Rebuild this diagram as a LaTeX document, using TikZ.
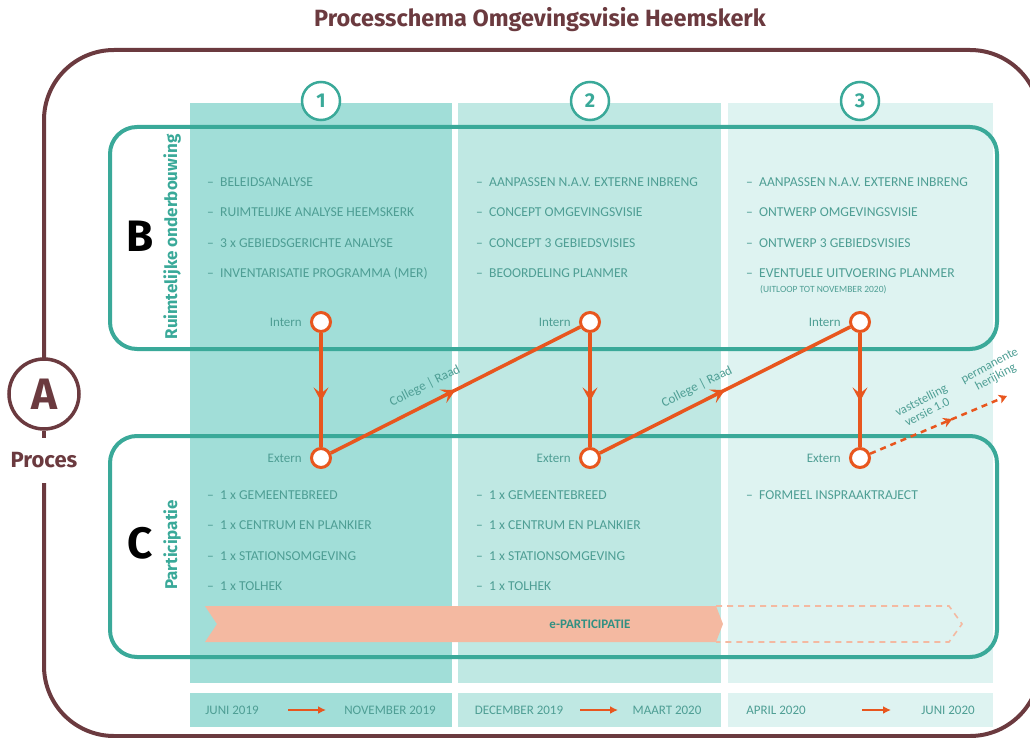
\documentclass[tikz,border=0pt]{standalone}
\usepackage{fontspec}
\setmainfont{Carlito}
\newfontfamily\headfont{Fira Sans}
\usetikzlibrary{arrows.meta,decorations.markings}
\definecolor{brownc}{HTML}{6B3A3F}
\definecolor{tealc}{HTML}{3AA999}
\definecolor{tealtxt}{HTML}{4E9E94}
\definecolor{orangec}{HTML}{E8561E}
\definecolor{salmon}{HTML}{F4B9A1}
\definecolor{colA}{HTML}{A1DED8}
\definecolor{colB}{HTML}{BFE8E3}
\definecolor{colC}{HTML}{DEF3F1}
\newcommand{\dashitem}[1]{\makebox[13pt][l]{–}#1}
\begin{document}
\begin{tikzpicture}[x=1pt,y=-1pt,
  item/.style={anchor=west, inner sep=0pt, text=tealtxt, font=\fontsize{13.6}{15}\selectfont, text height=8.5pt, text depth=0pt},
  smallitem/.style={anchor=west, inner sep=0pt, text=tealtxt, font=\fontsize{9.5}{11}\selectfont},
  lbl/.style={inner sep=0pt, text=tealtxt, font=\fontsize{13}{14}\selectfont},
  datetxt/.style={inner sep=0pt, text=tealtxt, font=\fontsize{13}{15}\selectfont, text height=9pt, text depth=0pt},
  numc/.style={circle, draw=tealc, line width=2.5pt, fill=white, minimum size=38pt, inner sep=0pt, text=tealc, font=\headfont\bfseries\fontsize{20}{22}\selectfont},
  port/.style={circle, draw=orangec, line width=3pt, fill=white, minimum size=19pt, inner sep=0pt},
  conn/.style={draw=orangec, line width=3.5pt},
  frameB/.style={draw=tealc, line width=4pt, rounded corners=27pt},
  midtip/.style={postaction={decorate}, decoration={markings, mark=at position #1 with {\arrow{Stealth[length=14pt,width=15pt,inset=6pt]}}}},
  midtipsmall/.style={postaction={decorate}, decoration={markings, mark=at position #1 with {\arrow{Stealth[length=9pt,width=10pt,inset=3pt]}}}},
  bigletter/.style={inner sep=0pt, font=\headfont\bfseries\fontsize{44}{48}\selectfont},
  sidelbl/.style={rotate=90, inner sep=0pt, text=tealc, font=\headfont\bfseries\fontsize{17}{19}\selectfont}
]
\useasboundingbox (0,0) rectangle (1030,738);
\clip (0,0) rectangle (1030,738);

% title
\node[text=brownc, font=\headfont\bfseries\fontsize{23.5}{26}\selectfont] (title) at (540,20) {Processchema Omgevingsvisie Heemskerk};

% outer frame
\draw[brownc, line width=4pt, rounded corners=70pt] (44,358) -- (44,50) -- (1040,50) -- (1040,736) -- (44,736) -- (44,483);
\node[circle, draw=brownc, line width=3.5pt, fill=white, minimum size=70pt, inner sep=0pt, text=brownc, font=\headfont\bfseries\fontsize{44}{48}\selectfont] (A) at (44,394) {A};
\coordinate (Astub) at (44,438);
\draw[brownc, line width=4pt] (A.south) -- (Astub);
\node[text=brownc, font=\headfont\bfseries\fontsize{22}{24}\selectfont, inner sep=0pt] (proces) at (44,460) {Proces};

% columns
\fill[colA] (190,103) rectangle (452,683);
\fill[colB] (458,103) rectangle (721,683);
\fill[colC] (728,103) rectangle (993,683);
% date bars
\fill[colA] (190,693) rectangle (452,727);
\fill[colB] (458,693) rectangle (721,727);
\fill[colC] (728,693) rectangle (993,727);

% number circles
\node[numc] (n1) at (321,101) {1};
\node[numc] (n2) at (590,101) {2};
\node[numc] (n3) at (860,101) {3};

% frames B and C
\draw[frameB] (110,127) rectangle (997,349);
\draw[frameB] (110,436) rectangle (997,657);

\node[bigletter] (B) at (140,236) {B};
\node[bigletter] (C) at (140,543) {C};
\node[sidelbl] (ruim) at (172,237) {Ruimtelijke onderbouwing};
\node[sidelbl] (part) at (172,545) {Participatie};

% B items
\foreach \t [count=\i] in {BELEIDSANALYSE, RUIMTELIJKE ANALYSE HEEMSKERK, 3 x GEBIEDSGERICHTE ANALYSE, INVENTARISATIE PROGRAMMA (MER)}
  \node[item] (b1-\i) at (207,{182+(\i-1)*30.5}) {\dashitem{\t}};
\foreach \t [count=\i] in {AANPASSEN N.A.V. EXTERNE INBRENG, CONCEPT OMGEVINGSVISIE, CONCEPT 3 GEBIEDSVISIES, BEOORDELING PLANMER}
  \node[item] (b2-\i) at (476,{182+(\i-1)*30.5}) {\dashitem{\t}};
\foreach \t [count=\i] in {AANPASSEN N.A.V. EXTERNE INBRENG, ONTWERP OMGEVINGSVISIE, ONTWERP 3 GEBIEDSVISIES, EVENTUELE UITVOERING PLANMER}
  \node[item] (b3-\i) at (746,{182+(\i-1)*30.5}) {\dashitem{\t}};
\node[smallitem] (b3-5) at (760,290) {(UITLOOP TOT NOVEMBER 2020)};

% C items
\foreach \t [count=\i] in {1 x GEMEENTEBREED, 1 x CENTRUM EN PLANKIER, 1 x STATIONSOMGEVING, 1 x TOLHEK}
  \node[item] (c1-\i) at (207,{495+(\i-1)*30.5}) {\dashitem{\t}};
\foreach \t [count=\i] in {1 x GEMEENTEBREED, 1 x CENTRUM EN PLANKIER, 1 x STATIONSOMGEVING, 1 x TOLHEK}
  \node[item] (c2-\i) at (476,{495+(\i-1)*30.5}) {\dashitem{\t}};
\node[item] (c3-1) at (746,495) {\dashitem{FORMEEL INSPRAAKTRAJECT}};

% e-participatie banner
\fill[salmon] (205,606) -- (716,606) -- (723,624) -- (716,642) -- (205,642) -- (217,624) -- cycle;
\draw[salmon, line width=1.6pt, dash pattern=on 6pt off 5pt] (716,606) -- (949,606) -- (962,624) -- (949,642) -- (716,642);
\node[inner sep=0pt, text=tealc!85!black, font=\bfseries\fontsize{13}{15}\selectfont] (epart) at (590,624) {e-PARTICIPATIE};

% ports
\node[port] (i1) at (321,322) {};
\node[port] (i2) at (590,322) {};
\node[port] (i3) at (860,322) {};
\node[port] (e1) at (321,458) {};
\node[port] (e2) at (590,458) {};
\node[port] (e3) at (860,458) {};
\foreach \k in {1,2,3} {
  \node[lbl, anchor=east] (il\k) at ([xshift=-8pt]i\k.west) {Intern};
  \node[lbl, anchor=east] (el\k) at ([xshift=-8pt]e\k.west) {Extern};
}

% connectors
\draw[conn, midtip=0.6] (i1) -- (e1);
\draw[conn, midtip=0.6] (i2) -- (e2);
\draw[conn, midtip=0.6] (i3) -- (e3);
\draw[conn, midtip=0.5] (e1) -- (i2);
\draw[conn, midtip=0.5] (e2) -- (i3);
\coordinate (fut) at (1007,396);
\draw[conn, line width=2.5pt, dash pattern=on 6pt off 5pt, midtipsmall=0.6, -{Stealth[length=8pt,width=9pt,inset=2pt]}] (e3) -- (fut);

\node[lbl, rotate=26.6] (cr1) at (425,386) {College | Raad};
\node[lbl, rotate=26.6] (cr2) at (697,387) {College | Raad};
\node[lbl, rotate=27, align=center, font=\fontsize{12.5}{13}\selectfont] (vast) at (924,406) {vaststelling\\versie 1.0};
\node[lbl, rotate=28, align=center, font=\fontsize{12.5}{13}\selectfont] (perm) at (993,372) {permanente\\herijking};

% dates
\node[datetxt] (d1a) at (232,710) {JUNI 2019};
\node[datetxt] (d1b) at (390,710) {NOVEMBER 2019};
\node[datetxt] (d2a) at (519,710) {DECEMBER 2019};
\node[datetxt] (d2b) at (667,710) {MAART 2020};
\node[datetxt] (d3a) at (776,710) {APRIL 2020};
\node[datetxt] (d3b) at (948,710) {JUNI 2020};
\coordinate (a1s) at (288,710); \coordinate (a1e) at (326,710);
\coordinate (a2s) at (580,710); \coordinate (a2e) at (618,710);
\coordinate (a3s) at (862,710); \coordinate (a3e) at (891,710);
\foreach \k in {1,2,3}
  \draw[orangec, line width=2.5pt, -{Latex[length=8pt,width=8pt]}] (a\k s) -- (a\k e);
\end{tikzpicture}
\end{document}
